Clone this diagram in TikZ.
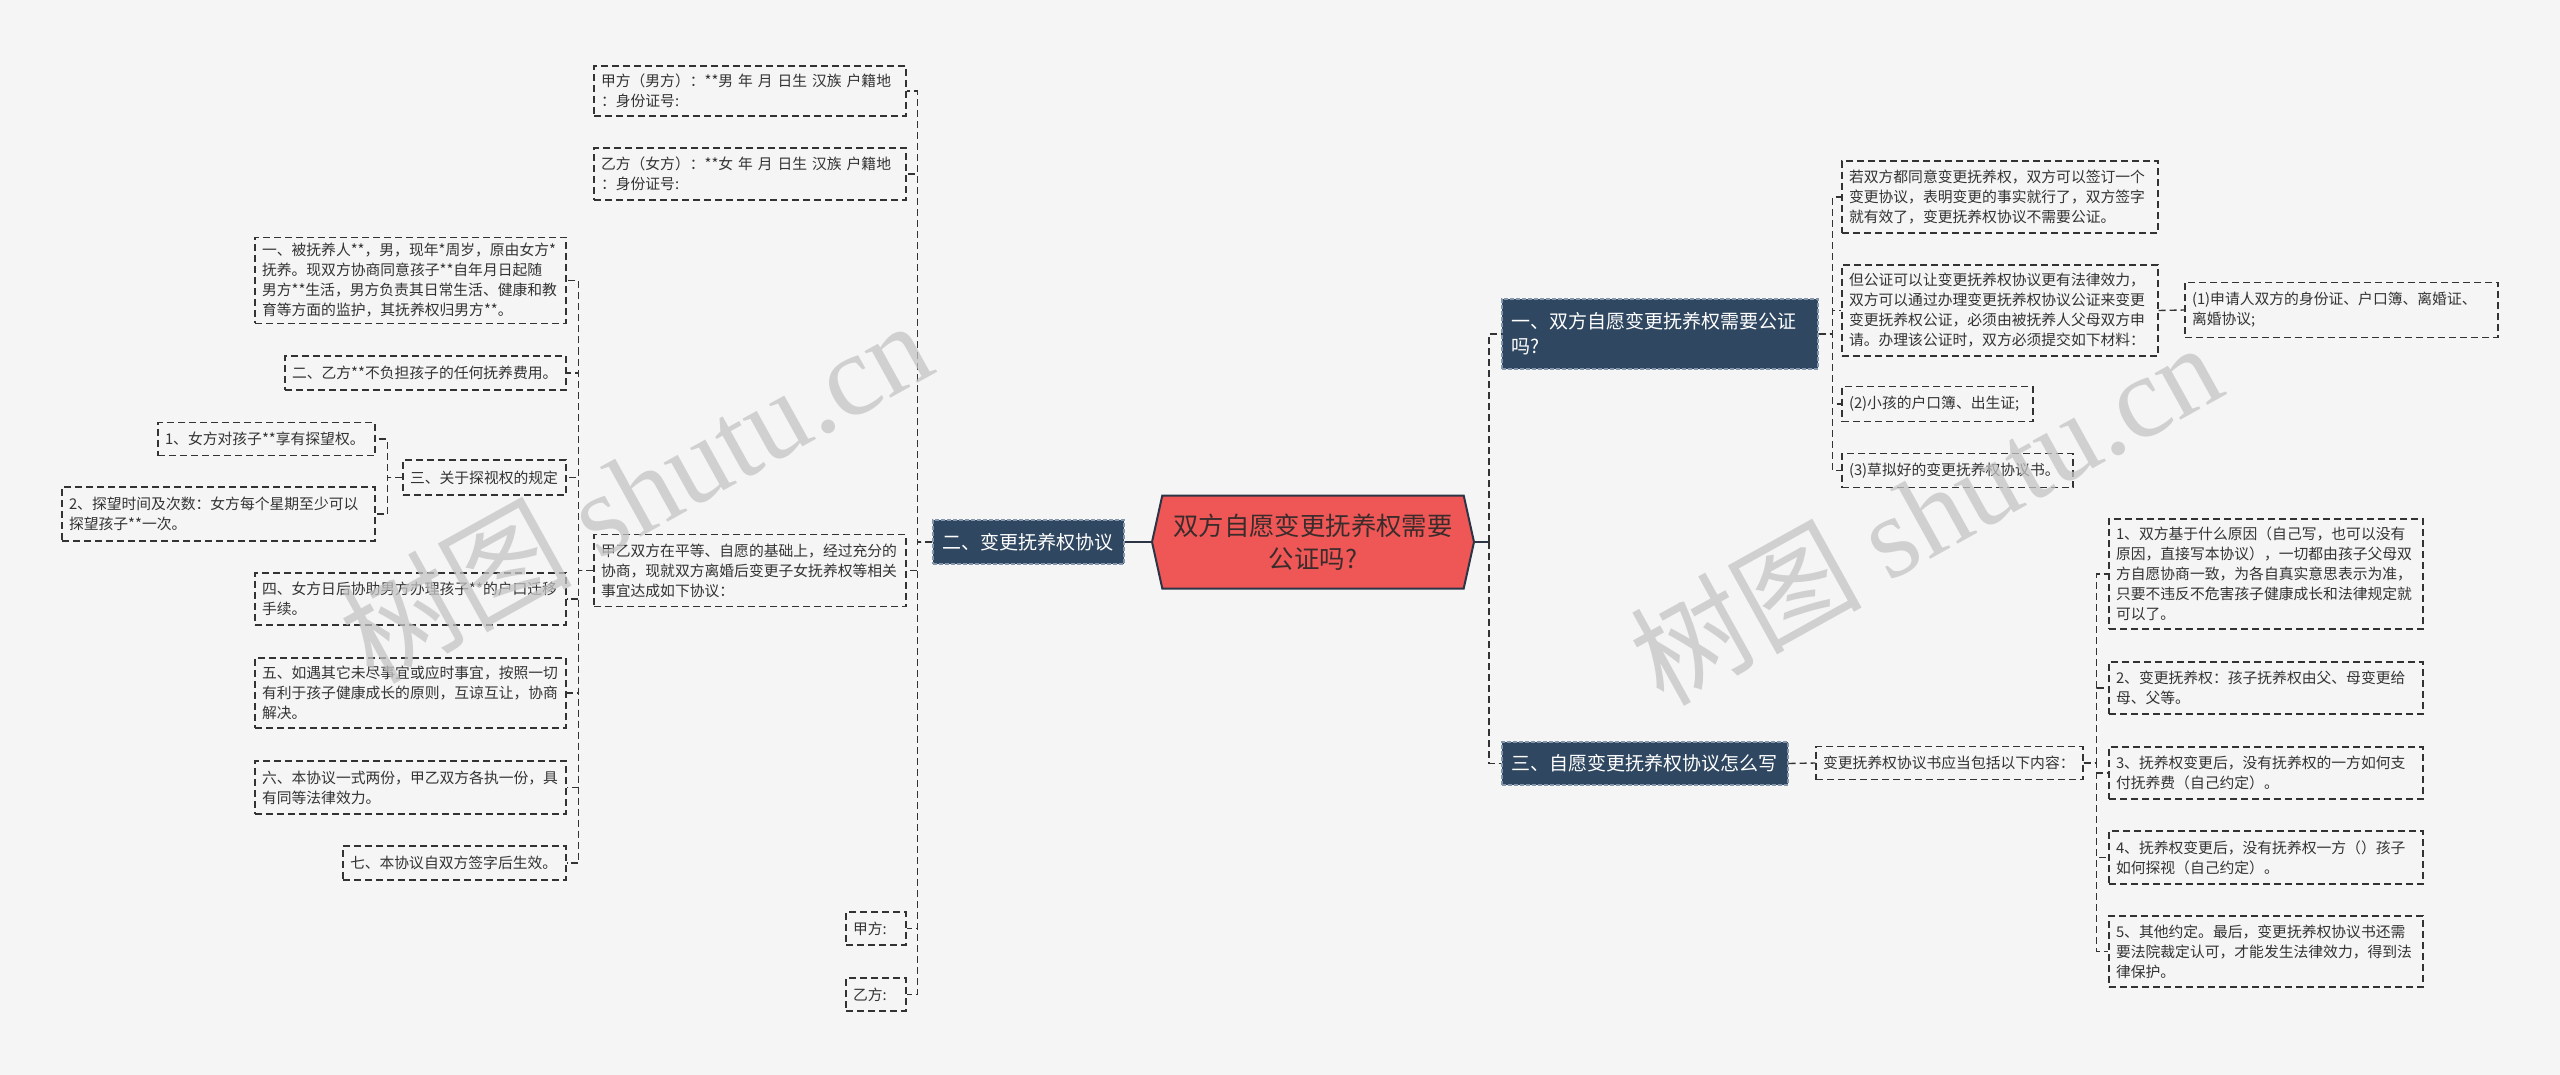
\documentclass[tikz,border=0pt]{standalone}
\usepackage{fontspec}
\setmainfont{Noto Sans CJK SC}
\newfontfamily\marklatin{Liberation Serif}
\usetikzlibrary{positioning, shapes.symbols, calc}
\definecolor{paper}{HTML}{F5F5F5}
\definecolor{ink}{HTML}{333333}
\definecolor{slate}{HTML}{2F4760}
\definecolor{slateedge}{HTML}{8396AB}
\definecolor{coral}{HTML}{EF5656}
\definecolor{rootedge}{HTML}{2C3545}
\definecolor{roottext}{HTML}{3B2C2C}
\definecolor{markgray}{HTML}{C4C4C4}

\begin{document}
\begin{tikzpicture}[
  x=0.5pt, y=-0.5pt,
  leaf/.style={draw=ink, fill=paper, dash pattern=on 3.5pt off 2pt, line width=0.7pt,
              align=left, inner xsep=3.5pt, inner ysep=2pt, text=ink,
              font=\fontsize{7.4}{10}\selectfont},
  topic/.style={draw=slateedge, fill=slate, dash pattern=on 2pt off 1pt, line width=0.6pt,
              align=left, inner xsep=4.5pt, text=white,
              font=\fontsize{9.5}{12.5}\selectfont},
  hub/.style={signal, signal to=east and west, signal pointer angle=155,
              draw=rootedge, fill=coral, line width=1pt, align=center, text=roottext,
              font=\fontsize{12.7}{16.5}\selectfont},
  link/.style={draw=ink, dash pattern=on 3.5pt off 2pt, line width=0.7pt},
  hublink/.style={draw=rootedge, line width=1pt},
  wm/.style={text=markgray, opacity=0.75, rotate=29, font=\fontsize{58}{58}\selectfont}
]
  \useasboundingbox (0,0) rectangle (2560,1075);
  \fill[paper] (0,0) rectangle (2560,1075);

  % Centre
  \node[hub, minimum width=161pt, minimum height=46.5pt] (root) at (1313,542)
    {双方自愿变更抚养权需要\\公证吗?};

  % Topics
  \node[topic, text width=86.5pt, minimum height=22pt] (deal) at (1028.5,542) {二、变更抚养权协议};
  \node[topic, text width=149pt, minimum height=35pt] (notary) at (1660,334)
    {一、双方自愿变更抚养权需要公证\\吗?};
  \node[topic, text width=134pt, minimum height=21.5pt] (howto) at (1645,763.5) {三、自愿变更抚养权协议怎么写};

  % Left branch: agreement text
  \node[leaf, text width=149pt, minimum height=25pt] (partyA) at (750,91)
    {甲方（男方）：**男 年 月 日生 汉族 户籍地\\：身份证号:};
  \node[leaf, text width=149pt, minimum height=26pt] (partyB) at (750,174)
    {乙方（女方）：**女 年 月 日生 汉族 户籍地\\：身份证号:};
  \node[leaf, text width=149pt, minimum height=36pt] (terms) at (750,570.5)
    {甲乙双方在平等、自愿的基础上，经过充分的\\协商，现就双方离婚后变更子女抚养权等相关\\事宜达成如下协议：};
  \node[leaf, text width=23pt, minimum height=16.5pt] (signA) at (876,928.5) {甲方:};
  \node[leaf, text width=23pt, minimum height=16.5pt] (signB) at (876,994.5) {乙方:};

  \node[leaf, text width=148.5pt, minimum height=43pt] (item1) at (410.5,280.5)
    {一、被抚养人**，男，现年*周岁，原由女方*\\*抚养。现双方协商同意孩子**自年月日起随\\男方**生活，男方负责其日常生活、健康和教\\育等方面的监护，其抚养权归男方**。};
  \node[leaf, text width=133.5pt, minimum height=17pt] (item2) at (425.5,373)
    {二、乙方**不负担孩子的任何抚养费用。};
  \node[leaf, text width=74.5pt, minimum height=17.5pt] (item3) at (484.5,477.5) {三、关于探视权的规定};
  \node[leaf, text width=101.5pt, minimum height=16.5pt] (visit1) at (266.5,439)
    {1、女方对孩子**享有探望权。};
  \node[leaf, text width=149.5pt, minimum height=27pt] (visit2) at (218.5,514)
    {2、探望时间及次数：女方每个星期至少可以\\探望孩子**一次。};
  \node[leaf, text width=148.5pt, minimum height=26pt] (item4) at (410.5,599)
    {四、女方日后协助男方办理孩子**的户口迁移\\手续。};
  \node[leaf, text width=148.5pt, minimum height=35pt] (item5) at (410.5,693)
    {五、如遇其它未尽事宜或应时事宜，按照一切\\有利于孩子健康成长的原则，互谅互让，协商\\解决。};
  \node[leaf, text width=148.5pt, minimum height=26.5pt] (item6) at (410.5,787.5)
    {六、本协议一式两份，甲乙双方各执一份，具\\有同等法律效力。};
  \node[leaf, text width=104.5pt, minimum height=17pt] (item7) at (454.5,863)
    {七、本协议自双方签字后生效。};

  % Right branch: notarisation
  \node[leaf, text width=151pt, minimum height=36pt] (consent) at (2000,197)
    {若双方都同意变更抚养权，双方可以签订一个\\变更协议，表明变更的事实就行了，双方签字\\就有效了，变更抚养权协议不需要公证。};
  \node[leaf, text width=151pt, minimum height=45.5pt] (effect) at (2000,310.5)
    {但公证可以让变更抚养权协议更有法律效力，\\双方可以通过办理变更抚养权协议公证来变更\\变更抚养权公证，必须由被抚养人父母双方申\\请。办理该公证时，双方必须提交如下材料：};
  \node[leaf, text width=149.5pt, minimum height=27.5pt] (doc1) at (2341.5,310)
    {(1)申请人双方的身份证、户口簿、离婚证、\\离婚协议;};
  \node[leaf, text width=88.5pt, minimum height=17.5pt] (doc2) at (1937.5,404) {(2)小孩的户口簿、出生证;};
  \node[leaf, text width=108.5pt, minimum height=17pt] (doc3) at (1957.5,470.5) {(3)草拟好的变更抚养权协议书。};

  % Right branch: how to write
  \node[leaf, text width=126.5pt, minimum height=16.5pt] (content) at (1949.5,763)
    {变更抚养权协议书应当包括以下内容：};
  \node[leaf, text width=150pt, minimum height=55pt] (point1) at (2266,574)
    {1、双方基于什么原因（自己写，也可以没有\\原因，直接写本协议），一切都由孩子父母双\\方自愿协商一致，为各自真实意思表示为准，\\只要不违反不危害孩子健康成长和法律规定就\\可以了。};
  \node[leaf, text width=150pt, minimum height=26pt] (point2) at (2266,688)
    {2、变更抚养权：孩子抚养权由父、母变更给\\母、父等。};
  \node[leaf, text width=150pt, minimum height=26pt] (point3) at (2266,773)
    {3、抚养权变更后，没有抚养权的一方如何支\\付抚养费（自己约定）。};
  \node[leaf, text width=150pt, minimum height=26.5pt] (point4) at (2266,857.5)
    {4、抚养权变更后，没有抚养权一方（）孩子\\如何探视（自己约定）。};
  \node[leaf, text width=150pt, minimum height=35.5pt] (point5) at (2266,951.5)
    {5、其他约定。最后，变更抚养权协议书还需\\要法院裁定认可，才能发生法律效力，得到法\\律保护。};

  % Connectors
  \draw[hublink] (root.west) -- (deal.east);
  \coordinate (hubR) at ($(root.east)+(14,0)$);
  \draw[hublink] (root.east) -- (hubR);
  \draw[link] (hubR) |- (notary.west);
  \draw[link] (hubR) |- (howto.west);

  \draw[link] (deal.west) -- ++(-15,0) |- (partyA.east);
  \draw[link] (deal.west) -- ++(-15,0) |- (partyB.east);
  \draw[link] (deal.west) -- ++(-15,0) |- (terms.east);
  \draw[link] (deal.west) -- ++(-15,0) |- (signA.east);
  \draw[link] (deal.west) -- ++(-15,0) |- (signB.east);

  \draw[link] (terms.west) -- ++(-15,0) |- (item1.east);
  \draw[link] (terms.west) -- ++(-15,0) |- (item2.east);
  \draw[link] (terms.west) -- ++(-15,0) |- (item3.east);
  \draw[link] (terms.west) -- ++(-15,0) |- (item4.east);
  \draw[link] (terms.west) -- ++(-15,0) |- (item5.east);
  \draw[link] (terms.west) -- ++(-15,0) |- (item6.east);
  \draw[link] (terms.west) -- ++(-15,0) |- (item7.east);
  \draw[link] (item3.west) -- ++(-15,0) |- (visit1.east);
  \draw[link] (item3.west) -- ++(-15,0) |- (visit2.east);

  \draw[link] (notary.east) -- ++(14,0) |- (consent.west);
  \draw[link] (notary.east) -- ++(14,0) |- (effect.west);
  \draw[link] (notary.east) -- ++(14,0) |- (doc2.west);
  \draw[link] (notary.east) -- ++(14,0) |- (doc3.west);
  \draw[link] (effect.east) -- (doc1.west);

  \draw[link] (howto.east) -- (content.west);
  \draw[link] (content.east) -- ++(13,0) |- (point1.west);
  \draw[link] (content.east) -- ++(13,0) |- (point2.west);
  \draw[link] (content.east) -- ++(13,0) |- (point3.west);
  \draw[link] (content.east) -- ++(13,0) |- (point4.west);
  \draw[link] (content.east) -- ++(13,0) |- (point5.west);

  % Watermarks
  \node[wm] (mark1) at (635,490) {树图 {\marklatin shutu.cn}};
  \node[wm] (mark2) at (1925,512) {树图 {\marklatin shutu.cn}};
\end{tikzpicture}
\end{document}
